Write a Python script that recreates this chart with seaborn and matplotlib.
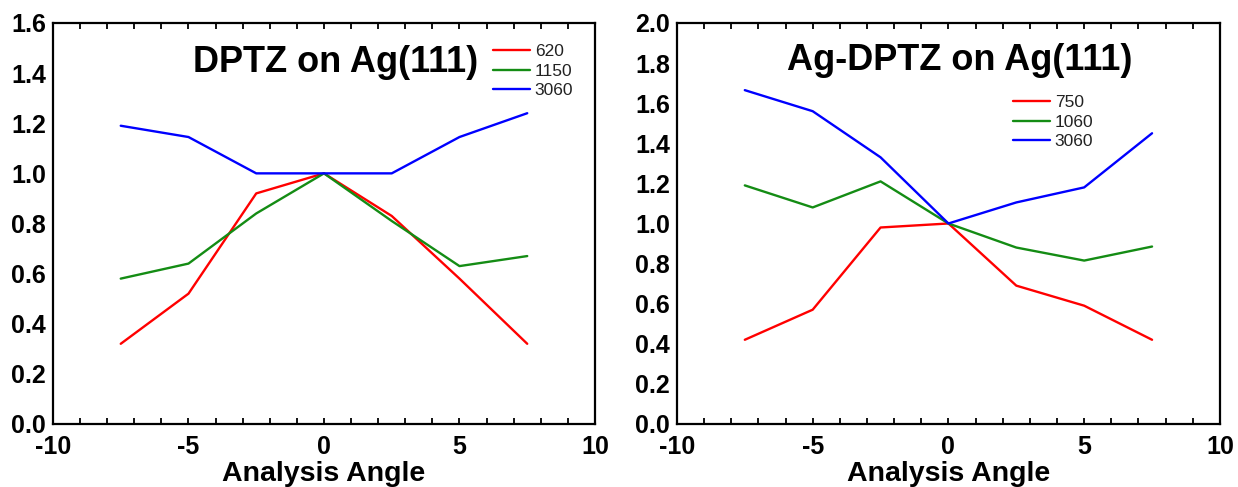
import numpy as np
import pandas as pd
import matplotlib
matplotlib.use("Agg")
import matplotlib.pyplot as plt
import seaborn as sns
from matplotlib.ticker import MultipleLocator, FormatStrFormatter

angles = [-7.5, -5, -2.5, 0, 2.5, 5, 7.5]

# Left panel: DPTZ on Ag(111)
left_620 = [0.32, 0.52, 0.92, 1.00, 0.83, 0.58, 0.32]
left_1150 = [0.58, 0.64, 0.84, 1.00, 0.81, 0.63, 0.67]
left_3060 = [1.19, 1.145, 1.00, 1.00, 1.00, 1.145, 1.24]

# Right panel: Ag-DPTZ on Ag(111)
right_750 = [0.42, 0.57, 0.98, 1.00, 0.69, 0.59, 0.42]
right_1060 = [1.19, 1.08, 1.21, 1.00, 0.88, 0.815, 0.885]
right_3060 = [1.665, 1.56, 1.33, 1.00, 1.105, 1.18, 1.45]

left_labels = ["620", "1150", "3060"]
right_labels = ["750", "1060", "3060"]
titles = ["DPTZ on Ag(111)", "Ag-DPTZ on Ag(111)"]
xlabel = "Analysis Angle"
colors = ["#ff0000", "#148c14", "#0000ff"]

sns.set_theme(style="white")
plt.rcParams['font.family'] = ['Liberation Sans', 'DejaVu Sans']
plt.rcParams['axes.unicode_minus'] = False

def make_df(labels, series):
    rows = []
    for lab, vals in zip(labels, series):
        for a, v in zip(angles, vals):
            rows.append({"angle": a, "value": v, "series": lab})
    return pd.DataFrame(rows)

df_left = make_df(left_labels, [left_620, left_1150, left_3060])
df_right = make_df(right_labels, [right_750, right_1060, right_3060])

fig = plt.figure(figsize=(12.38, 4.87), dpi=100)
ax1 = fig.add_axes([0.0428, 0.1294, 0.4378, 0.8234])
ax2 = fig.add_axes([0.5468, 0.1294, 0.4386, 0.8234])

panels = [
    (ax1, df_left, left_labels, 1.6, titles[0], (0.522, 0.878), (0.812, 0.947)),
    (ax2, df_right, right_labels, 2.0, titles[1], (0.521, 0.883), (0.619, 0.820)),
]

for ax, df, labels, ymax, title, tpos, lpos in panels:
    sns.lineplot(data=df, x="angle", y="value", hue="series", hue_order=labels,
                 palette=dict(zip(labels, colors)), linewidth=1.7, ax=ax,
                 estimator=None, sort=True)
    ax.set_xlim(-10, 10)
    ax.set_ylim(0, ymax)
    ax.xaxis.set_major_locator(MultipleLocator(5))
    ax.xaxis.set_minor_locator(MultipleLocator(1))
    ax.yaxis.set_major_locator(MultipleLocator(0.2))
    ax.yaxis.set_major_formatter(FormatStrFormatter('%.1f'))
    ax.tick_params(axis='x', which='both', direction='in', top=True, bottom=True,
                   length=4, width=1.3, color='black', labelsize=18, pad=8)
    ax.tick_params(axis='y', which='both', length=0, labelsize=18, pad=5)
    for lab in ax.get_xticklabels() + ax.get_yticklabels():
        lab.set_fontweight('bold')
        lab.set_color('black')
    for sp in ax.spines.values():
        sp.set_color('black')
        sp.set_linewidth(1.6)
    ax.set_xlabel(xlabel, fontsize=20.5, fontweight='bold', color='black')
    ax.xaxis.set_label_coords(0.5, -0.093)
    ax.set_ylabel("")
    ax.text(tpos[0], tpos[1], title, transform=ax.transAxes, ha='center', va='baseline',
            fontsize=26, fontweight='bold', color='black')
    leg = ax.legend(loc='upper left', bbox_to_anchor=lpos, frameon=False,
                    fontsize=12.5, handlelength=2.1, handletextpad=0.3,
                    labelspacing=0.25, borderaxespad=0, borderpad=0)
    for t in leg.get_texts():
        t.set_color('#222222')

fig.savefig("out.png", dpi=100)
